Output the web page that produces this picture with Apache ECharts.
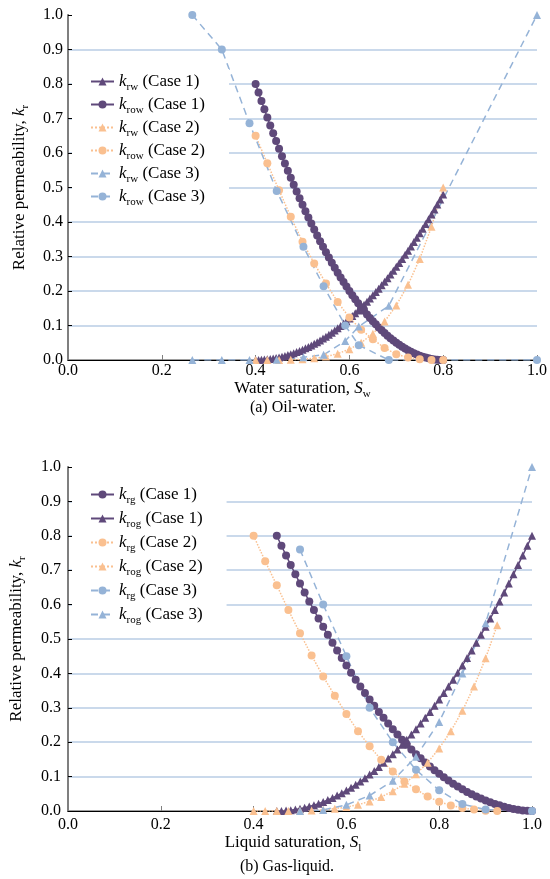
<!DOCTYPE html>
<html><head><meta charset="utf-8">
<script src="https://cdn.jsdelivr.net/npm/echarts@6/dist/echarts.min.js"></script>
<style>html,body{margin:0;padding:0;background:#fff}#c{width:550px;height:879px}</style>
</head><body><div id="c"></div><script>
// ---------- (a) Oil-water ----------
const swCase1 = [0.4,0.40625,0.4125,0.41875,0.425,0.43125,0.4375,0.44375,0.45,0.45625,0.4625,0.46875,0.475,0.48125,0.4875,0.49375,0.5,0.50625,0.5125,0.51875,0.525,0.53125,0.5375,0.54375,0.55,0.55625,0.5625,0.56875,0.575,0.58125,0.5875,0.59375,0.6,0.60625,0.6125,0.61875,0.625,0.63125,0.6375,0.64375,0.65,0.65625,0.6625,0.66875,0.675,0.68125,0.6875,0.69375,0.7,0.70625,0.7125,0.71875,0.725,0.73125,0.7375,0.74375,0.75,0.75625,0.7625,0.76875,0.775,0.78125,0.7875,0.79375,0.8];
const krwCase1 = [0,0.0001,0.0005,0.0011,0.0019,0.0029,0.0042,0.0057,0.0075,0.0095,0.0117,0.0142,0.0169,0.0198,0.0230,0.0264,0.0300,0.0339,0.0380,0.0423,0.0469,0.0517,0.0567,0.0620,0.0675,0.0732,0.0792,0.0854,0.0919,0.0986,0.1055,0.1126,0.1200,0.1276,0.1355,0.1436,0.1519,0.1604,0.1692,0.1782,0.1875,0.1970,0.2067,0.2167,0.2269,0.2373,0.2480,0.2589,0.2700,0.2814,0.2930,0.3048,0.3169,0.3292,0.3417,0.3545,0.3675,0.3807,0.3942,0.4079,0.4219,0.4361,0.4505,0.4651,0.4800];
const krowCase1 = [0.8000,0.7752,0.7508,0.7268,0.7031,0.6799,0.6570,0.6346,0.6125,0.5908,0.5695,0.5486,0.5281,0.5080,0.4883,0.4689,0.4500,0.4314,0.4133,0.3955,0.3781,0.3611,0.3445,0.3283,0.3125,0.2971,0.2820,0.2674,0.2531,0.2393,0.2258,0.2127,0.2000,0.1877,0.1758,0.1643,0.1531,0.1424,0.1320,0.1221,0.1125,0.1033,0.0945,0.0861,0.0781,0.0705,0.0633,0.0564,0.0500,0.0439,0.0383,0.0330,0.0281,0.0236,0.0195,0.0158,0.0125,0.0096,0.0070,0.0049,0.0031,0.0018,0.0008,0.0002,0];
const swCase2 = [0.4,0.425,0.45,0.475,0.5,0.525,0.55,0.575,0.6,0.625,0.65,0.675,0.7,0.725,0.75,0.775,0.8];
const krwCase2 = [0,0,0.0001,0.0006,0.002,0.0048,0.0099,0.0183,0.0313,0.05,0.0763,0.1117,0.1582,0.2179,0.2931,0.3862,0.5];
const krowCase2 = [0.65,0.57,0.492,0.415,0.343,0.28,0.222,0.168,0.123,0.088,0.06,0.035,0.017,0.007,0.002,0.0003,0];
const swCase3 = [0.265,0.328,0.387,0.445,0.502,0.545,0.591,0.62,0.684,1.0];
const krwCase3 = [0,0,0,0.001,0.008,0.015,0.055,0.097,0.157,1.0];
const krowCase3 = [1.0,0.9,0.686,0.49,0.328,0.214,0.1,0.043,0,0];

// ---------- (b) Gas-liquid ----------
const slCase1 = [0.45,0.46,0.47,0.48,0.49,0.5,0.51,0.52,0.53,0.54,0.55,0.56,0.57,0.58,0.59,0.6,0.61,0.62,0.63,0.64,0.65,0.66,0.67,0.68,0.69,0.7,0.71,0.72,0.73,0.74,0.75,0.76,0.77,0.78,0.79,0.8,0.81,0.82,0.83,0.84,0.85,0.86,0.87,0.88,0.89,0.9,0.91,0.92,0.93,0.94,0.95,0.96,0.97,0.98,0.99,1.0];
const krgCase1 = [0.8000,0.7712,0.7429,0.7151,0.6879,0.6612,0.6350,0.6093,0.5842,0.5596,0.5355,0.5120,0.4890,0.4665,0.4445,0.4231,0.4022,0.3819,0.3620,0.3428,0.3240,0.3057,0.2880,0.2708,0.2541,0.2380,0.2224,0.2073,0.1928,0.1788,0.1653,0.1530,0.1410,0.1295,0.1185,0.1080,0.0980,0.0885,0.0795,0.0710,0.0630,0.0555,0.0485,0.0420,0.0360,0.0305,0.0254,0.0207,0.0164,0.0125,0.0090,0.0060,0.0035,0.0016,0.0004,0];
const krogCase1 = [0,0.0003,0.0011,0.0024,0.0042,0.0066,0.0095,0.0130,0.0169,0.0214,0.0264,0.0320,0.0381,0.0447,0.0518,0.0595,0.0677,0.0764,0.0857,0.0955,0.1058,0.1166,0.1280,0.1399,0.1523,0.1653,0.1788,0.1928,0.2073,0.2224,0.2380,0.2541,0.2708,0.2880,0.3057,0.3240,0.3428,0.3620,0.3819,0.4022,0.4231,0.4445,0.4665,0.4890,0.5120,0.5355,0.5596,0.5842,0.6093,0.6350,0.6612,0.6879,0.7151,0.7429,0.7712,0.8000];
const slCase2 = [0.4,0.425,0.45,0.475,0.5,0.525,0.55,0.575,0.6,0.625,0.65,0.675,0.7,0.725,0.75,0.775,0.8,0.825,0.85,0.875,0.9,0.925];
const krgCase2 = [0.8,0.726,0.656,0.584,0.517,0.452,0.391,0.335,0.282,0.232,0.188,0.149,0.115,0.086,0.063,0.042,0.027,0.016,0.009,0.004,0.001,0];
const krogCase2 = [0,0,0,0.0002,0.0007,0.0017,0.0036,0.0067,0.0114,0.0182,0.0278,0.0407,0.0576,0.0793,0.1067,0.1406,0.182,0.2319,0.2915,0.3618,0.4443,0.54];
const slCase3 = [0.5,0.55,0.6,0.65,0.7,0.75,0.8,0.85,0.9,1.0];
const krgCase3 = [0.76,0.6,0.45,0.3,0.2,0.12,0.06,0.02,0.004,0];
const krogCase3 = [0,0.003,0.018,0.045,0.088,0.158,0.259,0.4,0.546,1.0];

const legendLabels = {
  krw1:'{i|k}{s|rw} (Case 1)', krow1:'{i|k}{s|row} (Case 1)',
  krw2:'{i|k}{s|rw} (Case 2)', krow2:'{i|k}{s|row} (Case 2)',
  krw3:'{i|k}{s|rw} (Case 3)', krow3:'{i|k}{s|row} (Case 3)',
  krg1:'{i|k}{s|rg} (Case 1)', krog1:'{i|k}{s|rog} (Case 1)',
  krg2:'{i|k}{s|rg} (Case 2)', krog2:'{i|k}{s|rog} (Case 2)',
  krg3:'{i|k}{s|rg} (Case 3)', krog3:'{i|k}{s|rog} (Case 3)'
};

const FONT = '"Liberation Serif","Times New Roman",serif';
const PURPLE = '#5F497A', ORANGE = '#FAC090', BLUE = '#95B3D7', GRIDC = '#B9CDE5';

const rich = {
  i: {fontFamily: FONT, fontStyle: 'italic', fontSize: 17, color: '#000'},
  s: {fontFamily: FONT, fontSize: 11, color: '#000', padding: [12, 0, 0, 0]}
};

function pairs(xs, ys) { return xs.map((x, i) => [x, ys[i]]); }

const caseStyle = {
  1: {color: PURPLE, type: 'solid', size: 8},
  2: {color: ORANGE, type: 'dotted', size: 8},
  3: {color: BLUE, type: [7, 5], size: 8}
};
function mk(name, xs, ys, c, sym, gi) {
  const st = caseStyle[c];
  return {
    name, type: 'line', xAxisIndex: gi * 2, yAxisIndex: gi * 2,
    data: pairs(xs, ys), symbol: sym, symbolSize: st.size, showSymbol: true,
    lineStyle: {color: st.color, width: 1.5, type: st.type},
    itemStyle: {color: st.color}, emphasis: {disabled: true}, animation: false
  };
}

function xAxes(gi, nm, pad, lm, gap) {
  return [{
    gridIndex: gi, type: 'value', min: 0, max: 1, interval: 0.2,
    axisLine: {lineStyle: {color: '#7f7f7f', width: 1.5}},
    axisTick: {inside: true, length: 5, lineStyle: {color: '#7f7f7f'}},
    axisLabel: {fontFamily: FONT, fontSize: 16, color: '#000', margin: lm, formatter: v => v.toFixed(1)},
    splitLine: {show: false},
    name: nm, nameLocation: 'middle', nameGap: gap,
    nameTextStyle: {fontFamily: FONT, fontSize: 17, color: '#000', rich, padding: pad}
  }, {
    gridIndex: gi, type: 'value', position: 'top', min: 0, max: 1,
    axisLine: {show: true, lineStyle: {color: '#000', width: 1}},
    axisTick: {show: false}, axisLabel: {show: false}, splitLine: {show: false}
  }];
}
function yAxes(gi, gap, margin) {
  return [{
    gridIndex: gi, type: 'value', min: 0, max: 1, interval: 0.1,
    axisLine: {show: true, lineStyle: {color: '#000', width: 1}},
    axisTick: {show: true, inside: true, length: 4, lineStyle: {color: '#000'}},
    axisLabel: {fontFamily: FONT, fontSize: 16, color: '#000', margin, formatter: v => v.toFixed(1)},
    splitLine: {show: true, showMinLine: false, showMaxLine: false, lineStyle: {color: GRIDC, width: 1.5}},
    name: 'Relative permeability, {i|k}{s|r}', nameLocation: 'middle', nameGap: gap, nameRotate: 90,
    nameTextStyle: {fontFamily: FONT, fontSize: 17, color: '#000', rich}
  }, {
    gridIndex: gi, type: 'value', position: 'right', min: 0, max: 1,
    axisLine: {show: true, lineStyle: {color: '#7f7f7f', width: 2}},
    axisTick: {show: false}, axisLabel: {show: false}, splitLine: {show: false}
  }];
}

function legend(names, top, gap) {
  return {
    data: names, orient: 'vertical', left: 72, top, itemGap: gap,
    itemWidth: 23, itemHeight: 10, padding: [4, 24, 4, 18],
    backgroundColor: '#fff', selectedMode: false,
    formatter: n => legendLabels[n],
    textStyle: {fontFamily: FONT, fontSize: 17, color: '#000', rich}
  };
}

const chart = echarts.init(document.getElementById('c'), null, {renderer: 'canvas'});
chart.setOption({
  animation: false,
  backgroundColor: '#fff',
  grid: [
    {left: 68, top: 15, width: 470, height: 345},
    {left: 62, top: 467, width: 470, height: 344}
  ],
  xAxis: [...xAxes(0, 'Water saturation, {i|S}{s|w}', [0, 0, 0, 0], 3, 12),
          ...xAxes(1, 'Liquid saturation, {i|S}{s|l}', [0, 14, 0, 0], 6, 17)],
  yAxis: [...yAxes(0, 37, 5), ...yAxes(1, 40, 7)],
  legend: [
    legend(['krw1','krow1','krw2','krow2','krw3','krow3'], 69, 3),
    legend(['krg1','krog1','krg2','krog2','krg3','krog3'], 482, 4)
  ],
  graphic: [
    {type: 'text', x: 293, y: 408, style: {text: '(a) Oil-water.', fill: '#000', font: '16px "Liberation Serif"', align: 'center', verticalAlign: 'middle', textAlign: 'center', textVerticalAlign: 'middle'}},
    {type: 'text', x: 287, y: 867, style: {text: '(b) Gas-liquid.', fill: '#000', font: '16px "Liberation Serif"', align: 'center', verticalAlign: 'middle', textAlign: 'center', textVerticalAlign: 'middle'}}
  ],
  series: [
    mk('krw1', swCase1, krwCase1, 1, 'triangle', 0),
    mk('krow1', swCase1, krowCase1, 1, 'circle', 0),
    mk('krw2', swCase2, krwCase2, 2, 'triangle', 0),
    mk('krow2', swCase2, krowCase2, 2, 'circle', 0),
    mk('krw3', swCase3, krwCase3, 3, 'triangle', 0),
    mk('krow3', swCase3, krowCase3, 3, 'circle', 0),
    mk('krg1', slCase1, krgCase1, 1, 'circle', 1),
    mk('krog1', slCase1, krogCase1, 1, 'triangle', 1),
    mk('krg2', slCase2, krgCase2, 2, 'circle', 1),
    mk('krog2', slCase2, krogCase2, 2, 'triangle', 1),
    mk('krg3', slCase3, krgCase3, 3, 'circle', 1),
    mk('krog3', slCase3, krogCase3, 3, 'triangle', 1)
  ]
});
</script></body></html>
